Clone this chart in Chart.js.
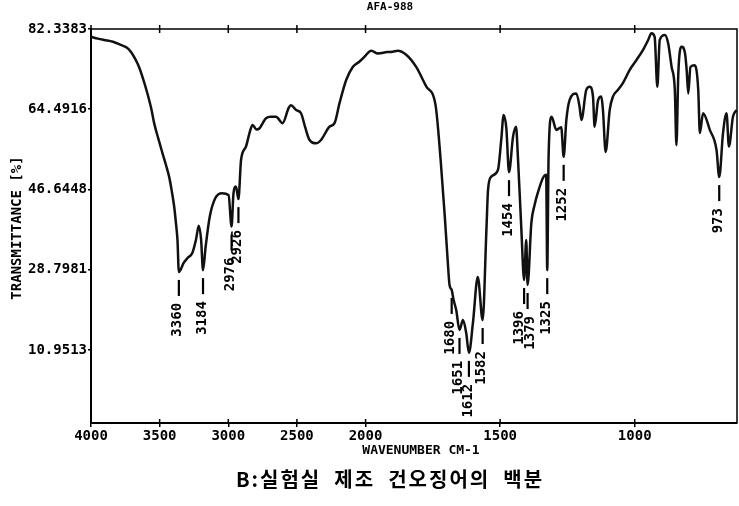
<!DOCTYPE html>
<html>
<head>
<meta charset="utf-8">
<script src="https://cdn.jsdelivr.net/npm/chart.js@4.4.1/dist/chart.umd.min.js"></script>
<style>
  html, body { margin: 0; padding: 0; background: #fff; }
</style>
</head>
<body>
<canvas id="ir" width="739" height="506"></canvas>
<script>
const chartTitle = "AFA-988";
const caption = "B:실험실  제조  건오징어의  백분";
const xTitle = "WAVENUMBER CM-1";
const yTitle = "TRANSMITTANCE [%]";

// spectrum, wavenumber (cm-1) -> transmittance (%)
const wavenumbers = [
  4000, 3950, 3905, 3840, 3783, 3740, 3710, 3680, 3650, 3620, 3589, 3560, 3540, 3510,
  3480, 3455, 3431, 3410, 3394, 3380, 3370, 3360, 3325, 3297, 3262, 3235, 3215, 3198,
  3184, 3165, 3135, 3095, 3045, 2998, 2976, 2962, 2944, 2926, 2907, 2871, 2840, 2823,
  2795, 2774, 2725, 2690, 2652, 2604, 2560, 2543, 2506, 2470, 2440, 2409, 2360, 2323,
  2263, 2226, 2190, 2141, 2093, 2044, 2007,
  1979, 1954, 1920, 1899, 1880, 1849, 1812, 1774, 1740, 1721, 1706, 1695, 1688, 1680,
  1673, 1663, 1651, 1638, 1626, 1616, 1601, 1583, 1565, 1551, 1545, 1533, 1508, 1496,
  1487, 1477, 1467, 1452, 1441, 1434, 1421, 1411, 1403, 1398, 1384, 1372, 1359, 1341,
  1329, 1325, 1320, 1309, 1291, 1273, 1264, 1254, 1242, 1217, 1205, 1198, 1180, 1167,
  1155, 1149, 1136, 1124, 1118, 1108, 1093, 1081, 1062, 1044, 1019, 994, 969, 950,
  938, 926, 916, 907, 888, 876, 863, 851, 845, 838, 826, 813, 807, 801,
  793, 777, 764, 758, 746, 721, 696, 686, 672, 659, 650, 635, 622
];
const transmittance = [
  80.6, 80.2, 79.9, 79.5, 78.8, 78.2, 77.3, 75.8, 73.9, 71.2, 68.0, 64.5, 61.4, 58.0,
  54.8, 52.2, 49.5, 46.0, 42.8, 38.8, 35.4, 28.3, 30.3, 31.4, 32.5, 35.5, 38.6, 35.5,
  28.7, 33.9, 40.6, 44.7, 45.8, 45.4, 38.4, 45.8, 47.3, 44.5, 53.2, 56.2, 59.8, 61.0,
  60.0, 60.2, 62.5, 62.8, 62.8, 61.4, 64.8, 65.4, 64.3, 63.6, 60.5, 57.7, 56.9, 57.7,
  60.6, 61.4, 65.8, 71.0, 73.9, 75.1, 76.2,
  77.5, 76.9, 77.2, 77.3, 77.5, 76.6, 73.9, 69.5, 65.4, 53.2, 41.0, 31.0, 25.4, 24.3,
  22.1, 19.8, 15.4, 17.6, 14.7, 10.3, 17.0, 27.2, 17.6, 37.6, 46.5, 49.5, 51.0, 57.6,
  63.2, 60.3, 50.5, 58.4, 60.6, 53.9, 37.6, 26.5, 35.4, 25.4, 39.2, 43.2, 46.1, 49.2,
  49.9, 28.7, 53.9, 62.8, 59.9, 60.5, 53.9, 62.1, 66.5, 68.0, 65.1, 62.1, 68.8, 69.5,
  67.3, 60.6, 66.5, 67.3, 64.3, 55.0, 64.3, 67.3, 68.8, 70.3, 73.2, 75.4, 77.7, 79.9,
  81.4, 80.6, 69.5, 79.9, 81.0, 79.2, 73.9, 68.8, 56.5, 72.5, 78.4, 76.9, 73.2, 68.0,
  73.9, 74.3, 68.8, 59.2, 63.6, 59.9, 55.4, 49.4, 59.1, 63.6, 56.2, 62.8, 64.3
];

const xTickValues = [4000, 3500, 3000, 2500, 2000, 1500, 1000];
const yTickValues = [10.9513, 28.7981, 46.6448, 64.4916, 82.3383];

// printed peak marks and where their dips sit on the trace
const peakText = ["3360", "3184", "2976", "2926", "1680", "1651", "1612", "1582",
                  "1454", "1396", "1379", "1325", "1252", "973"];
const peakAt = [3360, 3184, 2976, 2926, 1680, 1651, 1616, 1565,
                1467, 1411, 1398, 1325, 1264, 686];

const xEnd = 620;
const yMin = -5.3;
const yMax = 82.3383;

// the paper uses half scale above 2000 cm-1
const highSpan = 1.02;
function pos(wn) {
  if (wn >= 2000) return (4000 - wn) / 2000 * highSpan;
  return highSpan + (2000 - wn) / 1000;
}

const mono = "'DejaVu Sans Mono', monospace";

const paperPlugin = {
  id: "paper",
  afterDraw(chart) {
    const ctx = chart.ctx;
    const a = chart.chartArea;
    const x = chart.scales.x;
    const y = chart.scales.y;
    ctx.save();
    ctx.strokeStyle = "#000";
    ctx.fillStyle = "#000";

    // frame top and right
    ctx.lineWidth = 1.5;
    ctx.beginPath();
    ctx.moveTo(a.left, a.top);
    ctx.lineTo(a.right, a.top);
    ctx.lineTo(a.right, a.bottom);
    ctx.stroke();
    for (const v of xTickValues) {
      const px = x.getPixelForValue(pos(v));
      ctx.beginPath();
      ctx.moveTo(px, a.top - 4);
      ctx.lineTo(px, a.top + 4);
      ctx.moveTo(px, a.bottom - 4);
      ctx.lineTo(px, a.bottom);
      ctx.stroke();
    }

    // peak labels; text of marks that nearly touch is pushed apart
    const marks = peakAt.map((wn, i) => {
      const k = wavenumbers.indexOf(wn);
      const px = x.getPixelForValue(pos(wn));
      return { px: px, tx: px - 1, py: y.getPixelForValue(transmittance[k]), text: peakText[i] };
    });
    for (let i = 1; i < marks.length; i++) {
      const gap = marks[i].tx - marks[i - 1].tx;
      if (gap < 6) {
        const push = (11 - gap) / 2;
        marks[i - 1].tx -= push;
        marks[i].tx += push;
      }
    }
    ctx.font = "bold 14px " + mono;
    ctx.textAlign = "right";
    ctx.textBaseline = "middle";
    for (const m of marks) {
      ctx.lineWidth = 2.2;
      ctx.beginPath();
      ctx.moveTo(m.px, m.py + 8);
      ctx.lineTo(m.px, m.py + 24);
      ctx.stroke();
      ctx.save();
      ctx.translate(m.tx, m.py + 31);
      ctx.rotate(-Math.PI / 2);
      ctx.fillText(m.text, 0, 0);
      ctx.restore();
    }

    // y title
    ctx.save();
    ctx.translate(17, (a.top + a.bottom) / 2 + 2);
    ctx.rotate(-Math.PI / 2);
    ctx.textAlign = "center";
    ctx.font = "bold 14px " + mono;
    ctx.fillText(yTitle, 0, 0);
    ctx.restore();

    // chart title, x title, caption
    ctx.textAlign = "center";
    ctx.font = "bold 11px " + mono;
    ctx.fillText(chartTitle, 390, 7);
    ctx.font = "bold 13px " + mono;
    ctx.fillText(xTitle, 421, 451);
    ctx.font = "bold 20px 'Noto Sans CJK KR'";
    if ("letterSpacing" in ctx) ctx.letterSpacing = "2px";
    ctx.fillText(caption, 390, 479);
    ctx.restore();
  }
};

const points = wavenumbers.map((w, i) => ({ x: pos(w), y: transmittance[i] }));

new Chart(document.getElementById("ir"), {
  type: "line",
  data: {
    datasets: [{
      data: points,
      borderColor: "#111",
      borderWidth: 2.5,
      pointRadius: 0,
      fill: false,
      cubicInterpolationMode: "monotone"
    }]
  },
  options: {
    responsive: false,
    animation: false,
    devicePixelRatio: 1,
    layout: { padding: { top: 29, right: 2, left: 0, bottom: 0 } },
    plugins: { legend: { display: false }, tooltip: { enabled: false } },
    scales: {
      x: {
        type: "linear",
        min: 0,
        max: pos(xEnd),
        afterBuildTicks: s => { s.ticks = xTickValues.map(v => ({ value: pos(v) })); },
        afterFit: s => { s.height = 83; },
        ticks: {
          callback: (v, i) => xTickValues[i],
          color: "#000",
          font: { family: mono, size: 14, weight: "bold" },
          padding: 1,
          maxRotation: 0,
          autoSkip: false
        },
        grid: { drawOnChartArea: false, drawTicks: true, tickLength: 4, color: "#000", lineWidth: 1.5 },
        border: { color: "#000", width: 2 }
      },
      y: {
        type: "linear",
        min: yMin,
        max: yMax,
        afterBuildTicks: s => { s.ticks = yTickValues.map(v => ({ value: v })); },
        afterFit: s => { s.width = 91; },
        ticks: {
          callback: v => v.toFixed(4),
          color: "#000",
          font: { family: mono, size: 14, weight: "bold" },
          padding: 1
        },
        grid: { drawOnChartArea: false, drawTicks: true, tickLength: 3, color: "#000", lineWidth: 1.5 },
        border: { color: "#000", width: 2 }
      }
    }
  },
  plugins: [paperPlugin]
});
</script>
</body>
</html>
